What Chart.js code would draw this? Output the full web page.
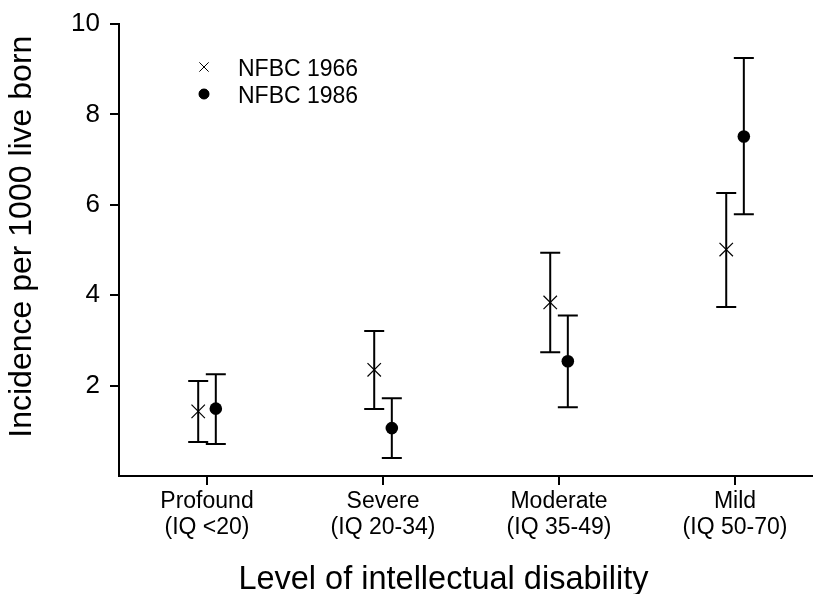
<!DOCTYPE html>
<html lang="en">
<head>
    <meta charset="UTF-8">
    <title>Incidence of intellectual disability</title>
    <script src="https://cdn.jsdelivr.net/npm/chart.js"></script>
    <style>
        html, body { margin: 0; padding: 0; background: #fff; overflow: hidden; }
        canvas { display: block; }
    </style>
</head>
<body>
<canvas id="chart" width="813" height="594"></canvas>

<script>
    // data
    const categories = ['Profound', 'Severe', 'Moderate', 'Mild']
    const iqRanges = ['(IQ <20)', '(IQ 20-34)', '(IQ 35-49)', '(IQ 50-70)']

    const est1966 = [1.43, 2.35, 3.84, 5.01]
    const low1966 = [0.75, 1.48, 2.74, 3.74]
    const high1966 = [2.10, 3.21, 4.94, 6.26]

    const est1986 = [1.49, 1.06, 2.54, 7.51]
    const low1986 = [0.71, 0.40, 1.52, 5.79]
    const high1986 = [2.25, 1.72, 3.55, 9.25]

    const yTicks = [2, 4, 6, 8, 10]

    const FONT = 'Liberation Sans, Arial, Helvetica, sans-serif'
    const shift = 0.05

    function points(est, low, high, dx) {
        return est.map((v, i) => ({x: i + 1 + dx, y: v, lo: low[i], hi: high[i]}))
    }

    function noPadding(s) {
        s.paddingLeft = 0
        s.paddingRight = 0
        s.paddingTop = 0
        s.paddingBottom = 0
    }

    // vertical error bars with caps, drawn under the markers
    const errorBars = {
        id: 'errorBars',
        beforeDatasetsDraw(chart) {
            const ctx = chart.ctx
            const xs = chart.scales.x
            const ys = chart.scales.y
            ctx.save()
            ctx.strokeStyle = '#000'
            ctx.lineWidth = 2
            chart.data.datasets.forEach(ds => {
                ds.data.forEach(p => {
                    const x = xs.getPixelForValue(p.x)
                    const yl = ys.getPixelForValue(p.lo)
                    const yh = ys.getPixelForValue(p.hi)
                    ctx.beginPath()
                    ctx.moveTo(x, yl)
                    ctx.lineTo(x, yh)
                    ctx.moveTo(x - 10, yl)
                    ctx.lineTo(x + 10, yl)
                    ctx.moveTo(x - 10, yh)
                    ctx.lineTo(x + 10, yh)
                    ctx.stroke()
                })
            })
            ctx.restore()
        }
    }

    // small legend inside the plot, top left
    const insideLegend = {
        id: 'insideLegend',
        afterDraw(chart) {
            const ctx = chart.ctx
            ctx.save()
            ctx.font = '23px ' + FONT
            ctx.textBaseline = 'middle'
            const rows = [
                {style: 'crossRot', radius: 6.6, fill: false, y: 70},
                {style: 'circle', radius: 5, fill: true, y: 97}
            ]
            chart.data.datasets.forEach((ds, i) => {
                const r = rows[i]
                ctx.strokeStyle = '#000'
                ctx.fillStyle = '#000'
                ctx.lineWidth = 1
                Chart.helpers.drawPoint(ctx, {pointStyle: r.style, radius: r.radius, borderWidth: 1, rotation: 0}, 204, r.y - 3)
                if (r.fill) ctx.fill()
                ctx.fillText(ds.label, 238, r.y)
            })
            ctx.restore()
        }
    }

    new Chart(document.getElementById('chart'), {
        type: 'scatter',
        data: {
            datasets: [
                {
                    label: 'NFBC 1966',
                    data: points(est1966, low1966, high1966, -shift),
                    pointStyle: 'crossRot',
                    pointRadius: 9.5,
                    pointBorderWidth: 1.2,
                    borderColor: '#000',
                    backgroundColor: '#000'
                },
                {
                    label: 'NFBC 1986',
                    data: points(est1986, low1986, high1986, shift),
                    pointStyle: 'circle',
                    pointRadius: 6.3,
                    pointBorderWidth: 0,
                    borderColor: '#000',
                    backgroundColor: '#000'
                }
            ]
        },
        options: {
            responsive: false,
            animation: false,
            layout: {autoPadding: false, padding: {top: 24, right: 0, left: 0, bottom: 0}},
            plugins: {
                legend: {display: false},
                tooltip: {enabled: false}
            },
            scales: {
                x: {
                    type: 'linear',
                    min: 0.5,
                    max: 4.443,
                    afterFit: s => { s.height = 118; noPadding(s) },
                    afterBuildTicks: s => { s.ticks = categories.map((c, i) => ({value: i + 1})) },
                    grid: {drawOnChartArea: false, drawTicks: true, tickLength: 9, color: '#000', lineWidth: 2},
                    border: {display: true, color: '#000', width: 2},
                    ticks: {
                        color: '#000',
                        padding: 3,
                        maxRotation: 0,
                        autoSkip: false,
                        font: {family: FONT, size: 23, lineHeight: 1.16},
                        callback: v => [categories[v - 1], iqRanges[v - 1]]
                    },
                    title: {
                        display: true,
                        text: 'Level of intellectual disability     ',
                        color: '#000',
                        font: {family: FONT, size: 32.5, lineHeight: 1},
                        padding: {top: 0, bottom: -2}
                    }
                },
                y: {
                    min: 0,
                    max: 10,
                    afterFit: s => { s.width = 119; noPadding(s) },
                    afterBuildTicks: s => { s.ticks = yTicks.map(v => ({value: v})) },
                    grid: {drawOnChartArea: false, drawTicks: true, tickLength: 9, color: '#000', lineWidth: 2},
                    border: {display: true, color: '#000', width: 2},
                    ticks: {
                        color: '#000',
                        padding: 10,
                        font: {family: FONT, size: 26}
                    },
                    title: {
                        display: true,
                        text: '   Incidence per 1000 live born',
                        color: '#000',
                        font: {family: FONT, size: 32, lineHeight: 1.2},
                        padding: {top: 3, bottom: 0}
                    }
                }
            }
        },
        plugins: [errorBars, insideLegend]
    })
</script>
</body>
</html>
